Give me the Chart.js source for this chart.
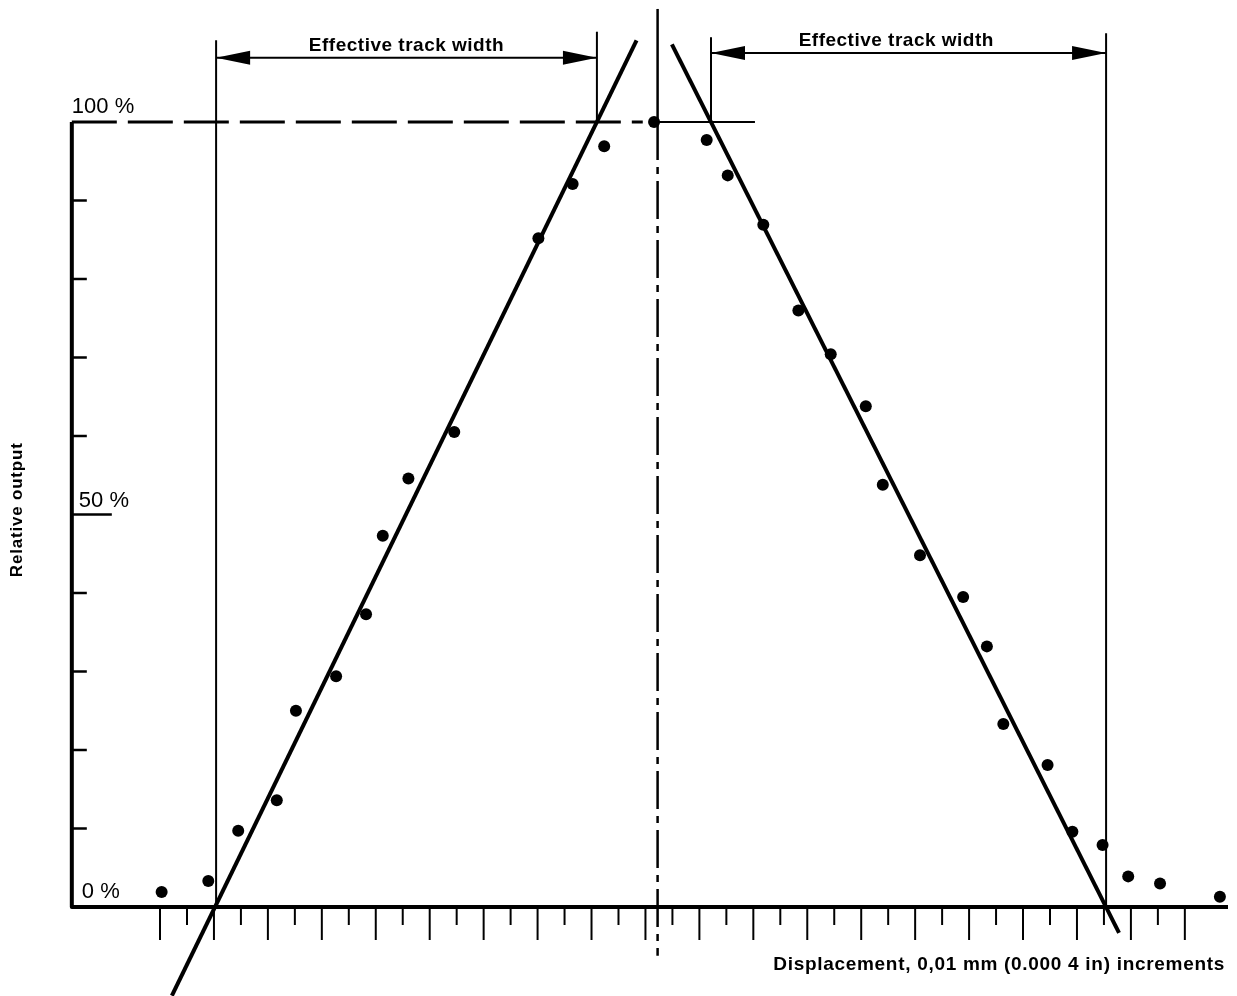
<!DOCTYPE html>
<html>
<head>
<meta charset="utf-8">
<title>Effective track width</title>
<script src="https://cdn.jsdelivr.net/npm/chart.js@4.4.1/dist/chart.umd.min.js"></script>
<style>
    html, body { margin: 0; padding: 0; background: #fff; }
    #wrap { width: 1237px; height: 996px; }
</style>
</head>
<body>
<div id="wrap"><canvas id="trackChart" width="1237" height="996"></canvas></div>
<script>
// measured points (displacement in tick steps, output in %)
const displacement = [0.06, 1.79, 2.90, 4.33, 5.04, 6.53, 7.64, 8.26, 9.21, 10.91, 14.03, 15.30, 16.47, 18.32,
    20.27, 21.05, 22.37, 23.67, 24.87, 26.17, 26.80, 28.18, 29.78, 30.66, 31.27, 32.91, 33.83, 34.95, 35.90, 37.08, 39.30];
const relativeOutput = [1.9, 3.3, 9.7, 13.6, 25.0, 29.4, 37.3, 47.3, 54.6, 60.5, 85.2, 92.1, 96.9, 100.0,
    97.7, 93.2, 86.9, 76.0, 70.4, 63.8, 53.8, 44.8, 39.5, 33.2, 23.3, 18.1, 9.6, 7.9, 3.9, 3.0, 1.3];

// fitted straight lines (end points)
const leftFitX = [0.44, 17.67];
const leftFitY = [-11.3, 110.4];
const rightFitX = [18.98, 35.56];
const rightFitY = [109.9, -3.3];

// axis ticks and labels
const xTicks = [0, 1, 2, 3, 4, 5, 6, 7, 8, 9, 10, 11, 12, 13, 14, 15, 16, 17, 18, 19,
    20, 21, 22, 23, 24, 25, 26, 27, 28, 29, 30, 31, 32, 33, 34, 35, 36, 37, 38];
const yTicks = [10, 20, 30, 40, 50, 60, 70, 80, 90];
const yLabelValues = [100, 50, 0];
const yLabels = ['100 %', '50 %', '0 %'];

// effective track width limits and centre line
const leftTrack = [2.08, 16.20];
const rightTrack = [20.43, 35.08];
const centreX = 18.45;

const trackLabel = 'Effective track width';
const xTitle = 'Displacement, 0,01 mm (0.000 4 in) increments';
const yTitle = 'Relative output';

const AXIS_LEFT = -3.27;
const AXIS_RIGHT = 39.6;
const FONT = '"Liberation Sans", Arial, Helvetica, sans-serif';

document.addEventListener('DOMContentLoaded', function() {
    createTrackChart();
});

function arrowHead(ctx, x, y, dir) {
    ctx.beginPath();
    ctx.moveTo(x, y);
    ctx.lineTo(x + dir * 34, y - 7);
    ctx.lineTo(x + dir * 34, y + 7);
    ctx.closePath();
    ctx.fill();
}

function line(ctx, x1, y1, x2, y2) {
    ctx.beginPath();
    ctx.moveTo(x1, y1);
    ctx.lineTo(x2, y2);
    ctx.stroke();
}

// axes, ticks, dimension arrows and texts
const drawingPlugin = {
    id: 'drawing',
    beforeDatasetsDraw(chart) {
        const ctx = chart.ctx;
        const px = v => chart.scales.x.getPixelForValue(v);
        const py = v => chart.scales.y.getPixelForValue(v);
        ctx.save();
        ctx.strokeStyle = '#000';
        ctx.fillStyle = '#000';

        // main axes
        ctx.lineWidth = 4;
        ctx.lineJoin = 'round';
        ctx.beginPath();
        ctx.moveTo(px(AXIS_LEFT), py(100));
        ctx.lineTo(px(AXIS_LEFT), py(0));
        ctx.lineTo(px(AXIS_RIGHT), py(0));
        ctx.stroke();

        // 100 % reference line
        ctx.lineWidth = 3;
        ctx.setLineDash([45, 11]);
        line(ctx, px(AXIS_LEFT), py(100), px(17.9), py(100));
        ctx.setLineDash([]);
        ctx.lineWidth = 2;
        line(ctx, px(centreX), py(100), px(22.06), py(100));

        // y ticks (inside)
        ctx.lineWidth = 2.5;
        yTicks.forEach(v => {
            const len = v === 50 ? 40 : 15;
            line(ctx, px(AXIS_LEFT), py(v), px(AXIS_LEFT) + len, py(v));
        });

        // x ticks (below)
        ctx.lineWidth = 2;
        xTicks.forEach(k => {
            const len = k % 2 === 0 ? 33 : 18;
            line(ctx, px(k), py(0), px(k), py(0) + len);
        });

        // centre line: solid top, dash-dot below 100 %
        ctx.lineWidth = 2.5;
        line(ctx, px(centreX), py(114.4), px(centreX), py(100));
        ctx.setLineDash([38, 7, 7, 7]);
        line(ctx, px(centreX), py(100), px(centreX), py(-6.2));
        ctx.setLineDash([]);

        // effective track width dimension lines
        ctx.lineWidth = 2;
        line(ctx, px(leftTrack[0]), py(0), px(leftTrack[0]), py(110.4));
        line(ctx, px(leftTrack[1]), py(100), px(leftTrack[1]), py(111.5));
        line(ctx, px(rightTrack[0]), py(100), px(rightTrack[0]), py(110.8));
        line(ctx, px(rightTrack[1]), py(0), px(rightTrack[1]), py(111.3));

        const ly = py(108.2), ry = py(108.8);
        line(ctx, px(leftTrack[0]), ly, px(leftTrack[1]), ly);
        line(ctx, px(rightTrack[0]), ry, px(rightTrack[1]), ry);
        arrowHead(ctx, px(leftTrack[0]), ly, 1);
        arrowHead(ctx, px(leftTrack[1]), ly, -1);
        arrowHead(ctx, px(rightTrack[0]), ry, 1);
        arrowHead(ctx, px(rightTrack[1]), ry, -1);

        ctx.font = 'bold 19px ' + FONT;
        ctx.letterSpacing = '0.5px';
        ctx.textAlign = 'center';
        ctx.textBaseline = 'alphabetic';
        ctx.fillText(trackLabel, px((leftTrack[0] + leftTrack[1]) / 2), ly - 7);
        ctx.fillText(trackLabel, px(27.3), ry - 7);

        // y labels
        ctx.font = '22px ' + FONT;
        ctx.letterSpacing = '0px';
        ctx.textAlign = 'left';
        yLabelValues.forEach((v, i) => {
            const offset = v === 100 ? 0 : (v === 50 ? 7 : 10);
            const lift = v === 50 ? 7 : 9;
            ctx.fillText(yLabels[i], px(AXIS_LEFT) + offset, py(v) - lift);
        });

        // axis titles
        ctx.font = 'bold 19px ' + FONT;
        ctx.letterSpacing = '0.7px';
        ctx.textAlign = 'right';
        ctx.textBaseline = 'middle';
        ctx.fillText(xTitle, px(39.49), py(-7.4));

        ctx.save();
        ctx.translate(px(-5.3), py(50.6));
        ctx.rotate(-Math.PI / 2);
        ctx.textAlign = 'center';
        ctx.font = 'bold 17px ' + FONT;
        ctx.letterSpacing = '0.8px';
        ctx.fillText(yTitle, 0, 0);
        ctx.restore();

        ctx.restore();
    }
};

function createTrackChart() {
    const ctx = document.getElementById('trackChart');
    if (!ctx) return;

    const points = displacement.map((x, i) => ({ x: x, y: relativeOutput[i] }));
    const leftFit = leftFitX.map((x, i) => ({ x: x, y: leftFitY[i] }));
    const rightFit = rightFitX.map((x, i) => ({ x: x, y: rightFitY[i] }));

    new Chart(ctx, {
        type: 'scatter',
        data: {
            datasets: [
                {
                    label: 'Measured',
                    data: points,
                    pointRadius: 6,
                    pointBackgroundColor: '#000',
                    pointBorderWidth: 0,
                    showLine: false,
                    clip: false
                },
                {
                    label: 'Left fit',
                    data: leftFit,
                    showLine: true,
                    borderColor: '#000',
                    borderWidth: 4,
                    pointRadius: 0,
                    clip: false
                },
                {
                    label: 'Right fit',
                    data: rightFit,
                    showLine: true,
                    borderColor: '#000',
                    borderWidth: 4,
                    pointRadius: 0,
                    clip: false
                }
            ]
        },
        options: {
            responsive: false,
            animation: false,
            layout: { padding: 0, autoPadding: false },
            plugins: {
                legend: { display: false },
                tooltip: { enabled: false }
            },
            scales: {
                x: { type: 'linear', min: -5.933, max: 39.934, display: false },
                y: { type: 'linear', min: -11.338, max: 115.541, display: false }
            }
        },
        plugins: [drawingPlugin]
    });
}
</script>
</body>
</html>
